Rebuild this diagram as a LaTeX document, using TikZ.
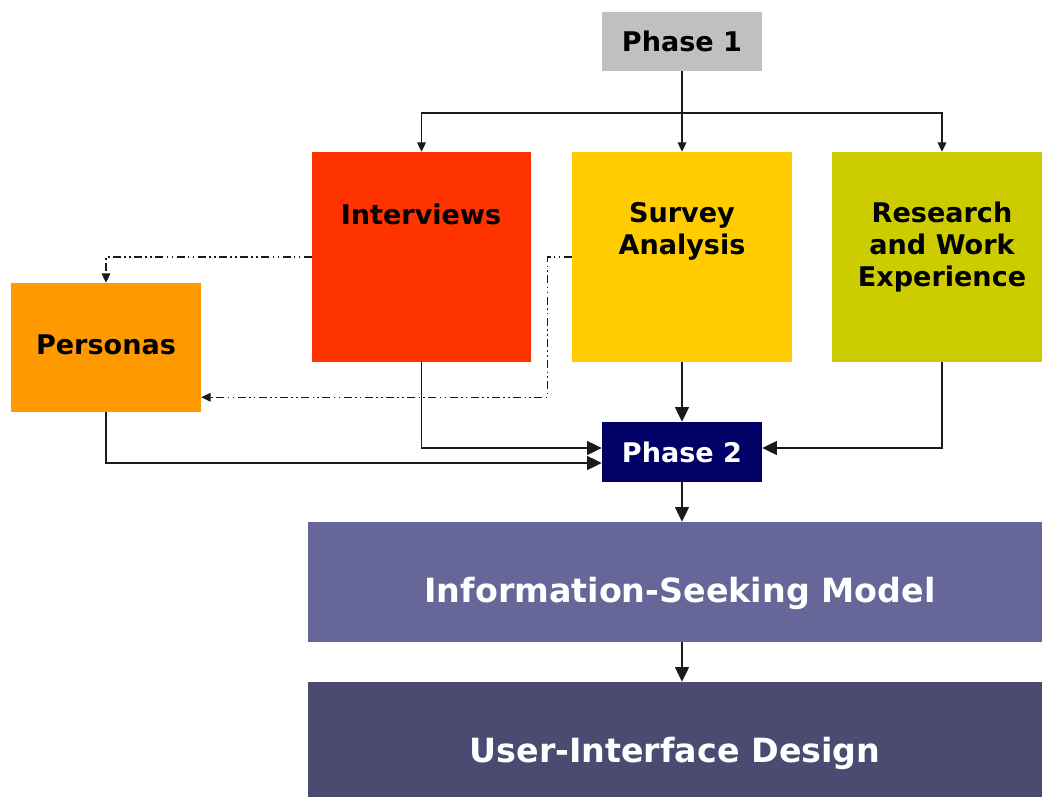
\documentclass[tikz,border=0pt]{standalone}
\usepackage{fontspec}
\setmainfont{DejaVu Sans}
\usetikzlibrary{arrows.meta,calc}
\definecolor{cPone}{HTML}{C0C0C0}
\definecolor{cInt}{HTML}{FF3300}
\definecolor{cSur}{HTML}{FFCC00}
\definecolor{cRes}{HTML}{CCCC00}
\definecolor{cPer}{HTML}{FF9900}
\definecolor{cPtwo}{HTML}{000066}
\definecolor{cInfo}{HTML}{666699}
\definecolor{cUI}{HTML}{4B4B72}
\definecolor{cLine}{HTML}{1A1A1A}
\tikzset{
  boxnode/.style={rectangle, inner sep=0pt, draw=none},
  lbl/.style={inner sep=0pt, align=center, font=\fontsize{20.3pt}{24pt}\bfseries},
  biglbl/.style={inner sep=0pt, anchor=base, font=\fontsize{25pt}{30pt}\bfseries, text=white},
  conn/.style={draw=cLine, line width=1pt},
  arr/.style={conn, -{Triangle[length=7pt,width=6.5pt]}},
  bigarr/.style={conn, -{Triangle[length=11pt,width=10.5pt]}},
  dd/.style={conn, line width=0.9pt, dash pattern=on 6pt off 2.5pt on 1.2pt off 2.5pt on 1.2pt off 2.5pt, -{Triangle[length=7pt,width=6.5pt]}}
}
\begin{document}
\begin{tikzpicture}[x=0.75pt,y=-0.75pt]
\clip (0,0) rectangle (1042,796);
\fill[white] (0,0) rectangle (1042,796);
% boxes
\node[boxnode, fill=cPone, minimum width=120pt, minimum height=44.25pt] (p1) at (682,41.5) {};
\node[boxnode, fill=cInt, minimum width=164.25pt, minimum height=157.5pt] (iv) at (421.5,257) {};
\node[boxnode, fill=cSur, minimum width=165pt, minimum height=157.5pt] (sv) at (682,257) {};
\node[boxnode, fill=cRes, minimum width=165pt, minimum height=157.5pt] (rw) at (942,257) {};
\node[boxnode, fill=cPer, minimum width=142.5pt, minimum height=96.75pt] (pe) at (106,347.5) {};
\node[boxnode, fill=cPtwo, minimum width=120pt, minimum height=45pt] (p2) at (682,452) {};
\node[boxnode, fill=cInfo, minimum width=561pt, minimum height=90pt] (im) at (682,582) {};
\node[boxnode, fill=cUI, minimum width=561pt, minimum height=90pt] (ui) at (682,742) {};
% labels
\node[lbl] (p1t) at (682,41) {Phase 1};
\node[lbl, text=white] (p2t) at (682,452) {Phase 2};
\node[lbl] (ivt) at (421,214) {Interviews};
\node[lbl] (svt) at (682,231) {Survey\\Analysis};
\node[lbl] (rwt) at (942,247) {Research\\and Work\\Experience};
\node[lbl] (pet) at (106,345) {Personas};
\node[biglbl] (imt) at (680,602) {Information-Seeking Model};
\node[biglbl] (uit) at (675,762) {User-Interface Design};
% connectors
\coordinate (split) at (682,113);
\draw[arr] (p1.south) -- (sv.north);
\draw[arr] (split) -| (iv.north);
\draw[arr] (split) -| (rw.north);
\draw[dd] (iv.west) -| (pe.north);
\coordinate (pein) at ($(pe.south east)+(0,-15)$);
\draw[dd] (sv.west) -- ++(-24,0) |- (pein);
\coordinate (p2a) at ($(p2.west)+(0,-4)$);
\coordinate (p2b) at ($(p2.west)+(0,11)$);
\coordinate (p2c) at ($(p2.east)+(0,-4)$);
\draw[bigarr] (iv.south) |- (p2a);
\draw[bigarr] (pe.south) |- (p2b);
\draw[bigarr] (sv.south) -- (p2.north);
\draw[bigarr] (rw.south) |- (p2c);
\draw[bigarr] (p2.south) -- (im.north);
\draw[bigarr] (im.south) -- (ui.north);
\end{tikzpicture}
\end{document}
